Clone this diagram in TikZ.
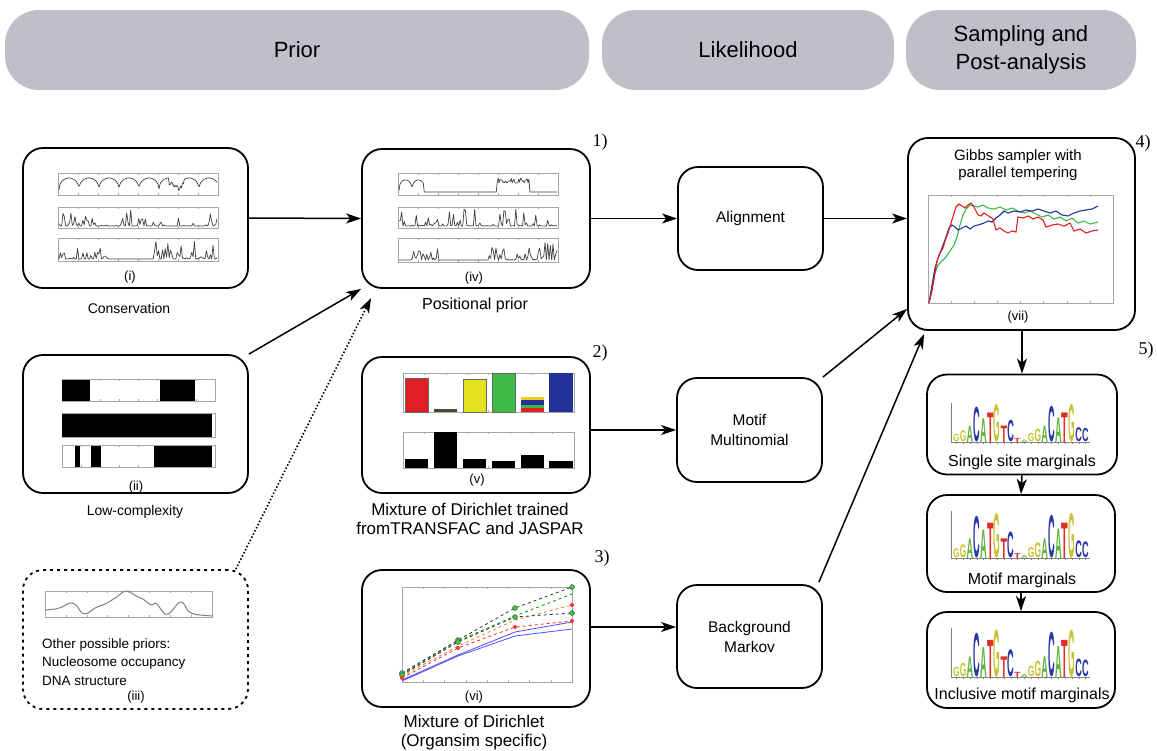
\documentclass[tikz,border=0pt]{standalone}
\usepackage{graphicx}
\usepackage{fontspec}
\setmainfont{Liberation Sans}
\newfontfamily\numfont{Liberation Serif}
\usetikzlibrary{arrows.meta,calc}
\definecolor{hdrgray}{RGB}{193,189,201}
\definecolor{lgC}{RGB}{40,55,165}
\definecolor{lgA}{RGB}{95,180,60}
\definecolor{lgG}{RGB}{200,195,50}
\definecolor{lgT}{RGB}{225,45,40}
\definecolor{bred}{RGB}{225,30,35}
\definecolor{byel}{RGB}{230,225,30}
\definecolor{bgrn}{RGB}{60,185,70}
\definecolor{bblu}{RGB}{35,50,155}
\definecolor{bora}{RGB}{240,120,50}
\tikzset{
 box/.style={draw, line width=1.8pt, rounded corners=20pt, inner sep=0pt},
 hdr/.style={fill=hdrgray, rounded corners=34pt, minimum height=80pt, inner sep=0pt, align=center, font=\fontsize{22}{28}\selectfont},
 arr/.style={-{Stealth[length=15pt,width=10pt,inset=4pt]}, line width=1.5pt},
 lbl/.style={font=\fontsize{13}{15}\selectfont, inner sep=0pt},
 capt/.style={font=\fontsize{14}{17}\selectfont, inner sep=0pt, align=center},
 bigcapt/.style={font=\fontsize{17}{19}\selectfont, inner sep=0pt, align=center},
 boxtext/.style={font=\fontsize{15.5}{20}\selectfont, inner sep=0pt, align=center},
 numlbl/.style={font=\numfont\fontsize{18}{20}\selectfont, inner sep=0pt},
 pframe/.style={draw=gray!70, line width=0.5pt},
 pl/.style={draw=black!75, line width=0.7pt, line join=round},
}
\newcommand\pfr[4]{\draw[pframe] (#1,#2) rectangle (#3,#4);
 \foreach \k in {1,...,7}{\draw[pframe] ({#1+(#3-#1)*\k/8},#4) -- ++(0,-2); \draw[pframe] ({#1+(#3-#1)*\k/8},#2) -- ++(0,2);}}
\newcommand\seqlogo[3]{%
 \draw[gray, line width=0.5pt] (#1-2,{#2-48*#3}) -- (#1-2,#2) -- (#1+137,#2);
 \foreach \k in {0,...,19}{\draw[gray, line width=0.4pt] ({#1+3.4+\k*6.8},#2) -- ++(0,2);}
 \foreach \c/\l/\col/\h in {0/G/lgG/9,1/G/lgG/13,2/A/lgA/20,3/C/lgC/42,4/A/lgA/29,5/T/lgT/36,6/G/lgG/45,7/T/lgT/20,8/C/lgC/26,9/T/lgT/5,10/A/lgA/3,11/G/lgG/10,12/G/lgG/15,13/A/lgA/20,14/C/lgC/43,15/A/lgA/30,16/T/lgT/36,17/G/lgG/45,18/C/lgC/17,19/C/lgC/16}{%
  \pgfmathsetmacro\hh{\h*#3}%
  \node[anchor=south west, inner sep=0pt, outer sep=0pt] at ({#1+\c*6.8},#2) {\resizebox{6.6pt}{\hh pt}{\textcolor{\col}{\bfseries\l}}};}}
\begin{document}
\begin{tikzpicture}[x=1pt,y=-1pt]
\useasboundingbox[fill=white] (0,0) rectangle (1157,750);
\pgfmathsetseed{7}
% headers
\node[hdr, minimum width=584pt] (hprior) at (297,50) {Prior};
\node[hdr, minimum width=292pt] (hlik) at (748,50) {Likelihood};
\node[hdr, minimum width=230pt] (hsamp) at (1021,50) {Sampling and\\Post-analysis};

% boxes
\node[box, minimum width=225pt, minimum height=140pt] (cons) at (135.5,218) {};
\node[box, minimum width=225pt, minimum height=138pt] (lowc) at (135.5,424) {};
\node[box, dashed, dash pattern=on 3pt off 4pt, minimum width=225pt, minimum height=139pt] (other) at (135.5,639.5) {};
\node[box, minimum width=228pt, minimum height=139pt] (pos) at (476,218.5) {};
\node[box, minimum width=228pt, minimum height=136pt] (dir) at (476,425) {};
\node[box, minimum width=228pt, minimum height=137pt] (org) at (476,638.5) {};
\node[box, minimum width=145pt, minimum height=103pt, boxtext] (align) at (750.5,218.5) {Alignment};
\node[box, minimum width=145pt, minimum height=104pt, boxtext] (motif) at (749.5,430) {Motif\\Multinomial};
\node[box, minimum width=145pt, minimum height=103pt, boxtext] (bg) at (749.5,636.5) {Background\\Markov};
\node[box, minimum width=227pt, minimum height=192pt] (gibbs) at (1021.5,234) {};
\node[box, minimum width=190pt, minimum height=100pt] (ssm) at (1022,424.5) {};
\node[box, minimum width=188pt, minimum height=97pt] (mm) at (1021,543.5) {};
\node[box, minimum width=188pt, minimum height=96pt] (imm) at (1021,660) {};

% labels and captions
\node[lbl] (li) at (130,277) {(i)};
\node[capt] (ci) at (129,308) {Conservation};
\node[lbl] (lii) at (136,487) {(ii)};
\node[capt] (cii) at (135,512) {Low-complexity};
\node[lbl] (liii) at (136,697) {(iii)};
\node[anchor=west, inner sep=0pt, align=left, font=\fontsize{13.5}{18.5}\selectfont] (ciii) at (42,662) {Other possible priors:\\Nucleosome occupancy\\DNA structure};
\node[lbl] (liv) at (474,278) {(iv)};
\node[font=\fontsize{16}{19}\selectfont, inner sep=0pt] (civ) at (475,305) {Positional prior};
\node[lbl] (lv) at (477,480) {(v)};
\node[bigcapt] (cv) at (470,519) {Mixture of Dirichlet trained\\fromTRANSFAC and JASPAR};
\node[lbl] (lvi) at (474,697) {(vi)};
\node[bigcapt] (cvi) at (474,733) {Mixture of Dirichlet\\(Organsim specific)};
\node[font=\fontsize{15}{17}\selectfont, inner sep=0pt, align=center] (tg) at (1018,165) {Gibbs sampler with\\parallel tempering};
\node[lbl] (lvii) at (1018,317) {(vii)};
\node[font=\fontsize{16}{19}\selectfont, inner sep=0pt] (tss) at (1022,462) {Single site marginals};
\node[font=\fontsize{16}{19}\selectfont, inner sep=0pt] (tmm) at (1022,580) {Motif marginals};
\node[font=\fontsize{16}{19}\selectfont, inner sep=0pt] (timm) at (1022,695) {Inclusive motif marginals};
\node[numlbl] (n1) at (600,142) {1)};
\node[numlbl] (n2) at (600,353) {2)};
\node[numlbl] (n3) at (602,558) {3)};
\node[numlbl] (n4) at (1143,143) {4)};
\node[numlbl] (n5) at (1146,350) {5)};

% arrows
\draw[arr] (cons.east) -- (pos.west);
\draw[arr] (lowc.north east) -- (pos.south west);
\draw[arr, dotted, line width=1.6pt] ($(other.north east)+(-13,0)$) -- ($(pos.south west)+(10,9)$);
\draw[arr] (pos.east) -- (align.west);
\draw[arr] (align.east) -- (align.east -| gibbs.west);
\draw[arr] (dir.east |- motif.west) -- (motif.west);
\draw[arr] (org.east |- 0,627) -- (bg.west |- 0,627);
\draw[arr] (motif.north east) -- ($(gibbs.south west)+(0,-22)$);
\draw[arr] ($(bg.north east)+(-4,-2)$) -- ($(gibbs.south west)+(17,3)$);
\draw[arr] (gibbs.south -| ssm.north) -- (ssm.north);
\draw[arr] (ssm.south) -- (mm.north);
\draw[arr] (mm.south) -- (imm.north);

% ---- plot (i) conservation
\pfr{58}{173}{218}{195}
\draw[pl] plot[samples=170, domain=0:158] ({59+\x},{194-(3+13*(abs(sin(\x*9))+0.001)^0.35+(\x>110)*(\x<125)*(-8+6*rnd))});
\pfr{58}{207}{218}{228}
\draw[pl] plot[samples=120, domain=0:158] ({59+\x},{227-(1+17*rnd^6)});
\pfr{58}{238}{218}{261}
\draw[pl] plot[samples=120, domain=0:158] ({59+\x},{260-(1+((\x<55)*0.6+(\x>95))*18*rnd^4)});
% ---- plot (iv) positional
\pfr{398}{173}{558}{195}
\draw[pl] plot[samples=170, domain=0:158] ({399+\x},{194-(2+(\x<25)*12*(abs(sin(\x*14))+0.001)^0.3+(\x>98)*(\x<130)*(9+5*rnd^2))});
\pfr{398}{207}{558}{228}
\draw[pl] plot[samples=120, domain=0:158] ({399+\x},{227-(1+17*rnd^6)});
\pfr{398}{238}{558}{262}
\draw[pl] plot[samples=120, domain=0:158] ({399+\x},{261-(1+((\x<40)*(\x>12)*0.7+(\x>90))*19*rnd^4)});
% ---- plot (ii) low complexity
\pfr{62}{379}{215}{401}
\fill (62,380) rectangle (90,401); \fill (160,380) rectangle (195,401);
\pfr{62}{413}{215}{437}
\fill (62,414) rectangle (212,437);
\pfr{62}{445}{215}{467}
\fill (75,446) rectangle (80,467); \fill (91,446) rectangle (101,467); \fill (154,446) rectangle (212,467);
% ---- plot (iii)
\pfr{45}{591}{212}{617}
\draw[draw=gray, line width=1pt] plot[smooth, tension=0.6] coordinates {(45,610) (55,609) (62,607) (70,603) (76,605) (82,613) (88,613) (95,608) (105,604) (112,600) (118,596) (123,592) (128,591) (133,594) (138,597) (143,599) (148,603) (152,605) (156,603) (160,608) (165,614) (170,613) (175,607) (180,602) (184,604) (188,611) (194,614) (200,615) (212,616)};
% ---- plot (v) bars
\pfr{403}{373}{574}{412}
\fill[bred, draw=black!60, line width=0.4pt] (405,378) rectangle (428,412);
\fill[black!60!olive] (434,409) rectangle (457,412);
\fill[byel, draw=black!60, line width=0.4pt] (463,379) rectangle (486,412);
\fill[bgrn, draw=black!60, line width=0.4pt] (492,373) rectangle (515,412);
\fill[byel!80!orange] (521,397) rectangle (544,400);
\fill[bblu] (521,400) rectangle (544,405);
\fill[bgrn] (521,405) rectangle (544,408);
\fill[bred] (521,408) rectangle (544,412);
\fill[bblu] (549,373) rectangle (573,412);
\pfr{403}{432}{574}{468}
\fill (405,459) rectangle (428,468);
\fill (434,432) rectangle (457,468);
\fill (463,459) rectangle (486,468);
\fill (492,461) rectangle (515,468);
\fill (521,455) rectangle (544,468);
\fill (549,461) rectangle (573,468);
% ---- plot (vi) lines
\pfr{402}{587}{572}{682}
\begin{scope}[shift={(402,682)}, yscale=-1]
 \draw[blue!70, line width=0.8pt] (0,1) -- (56,26) -- (113,46) -- (170,53);
 \draw[blue!70, line width=0.8pt] (0,2) -- (56,27) -- (113,50) -- (170,60);
 \draw[red!85, dashed, line width=0.8pt] (0,4) -- (56,34) -- (113,55) -- (170,61);
 \draw[bora, dashed, line width=0.8pt] (0,6) -- (56,36) -- (113,62) -- (170,77);
 \draw[black!80, dashed, line width=0.8pt] (0,7) -- (56,40) -- (113,65) -- (170,69);
 \draw[green!60!black, dashed, line width=0.8pt] (0,8) -- (56,41) -- (113,66) -- (170,88);
 \draw[black!80, dashed, line width=0.8pt] (0,9) -- (56,42) -- (113,74) -- (170,95);
 \foreach \p in {(0,9),(56,42),(113,74),(170,95),(0,7),(56,40),(113,65),(170,69)} \draw[black!70, fill=green!50!gray] \p circle (2.5);
 \foreach \p in {(0,4),(56,34),(113,55),(170,61),(170,77)} \fill[red!80] \p circle (2);
\end{scope}
% ---- Gibbs plot
\pfr{928}{195}{1113}{303}
\begin{scope}[shift={(928,303)}, yscale=-1]
 \draw[bgrn, line width=1.1pt] plot coordinates {(1,0)(4,15)(7,30)(10,38)(14,42)(18,46)(22,52)(26,58)(29,66)(32,78)(35,88)(38,94)(42,98)(46,97)(50,96)(55,98)(60,95)(66,94)(72,96)(78,93)(84,95)(90,92)(96,90)(102,92)(108,89)(114,86)(120,88)(126,84)(132,86)(138,82)(144,85)(150,80)(156,82)(162,79)(170,81)};
 \draw[bblu, line width=1.1pt] plot coordinates {(1,0)(4,18)(7,35)(10,45)(14,55)(18,66)(21,75)(24,78)(27,76)(30,73)(34,75)(38,77)(42,74)(46,77)(50,78)(56,80)(60,82)(64,81)(68,85)(72,88)(76,92)(80,90)(86,92)(92,91)(98,93)(104,92)(110,94)(116,92)(122,90)(128,92)(134,88)(140,87)(146,90)(152,92)(158,93)(164,94)(170,97)};
 \draw[bred, line width=1.1pt] plot coordinates {(1,0)(4,12)(7,30)(9,42)(12,50)(15,55)(17,62)(20,70)(23,80)(26,90)(28,96)(31,99)(34,97)(37,95)(40,98)(43,100)(46,96)(48,92)(50,88)(53,87)(56,90)(59,88)(62,86)(65,84)(68,73)(72,75)(76,72)(80,70)(84,72)(88,71)(90,86)(95,85)(100,87)(105,84)(110,86)(115,83)(118,76)(124,78)(130,79)(136,77)(142,80)(146,72)(152,74)(158,70)(164,72)(170,73)};
\end{scope}
% ---- logos
\seqlogo{953}{442}{0.82}
\seqlogo{953}{558}{0.98}
\seqlogo{953}{677}{1.03}
\end{tikzpicture}
\end{document}
